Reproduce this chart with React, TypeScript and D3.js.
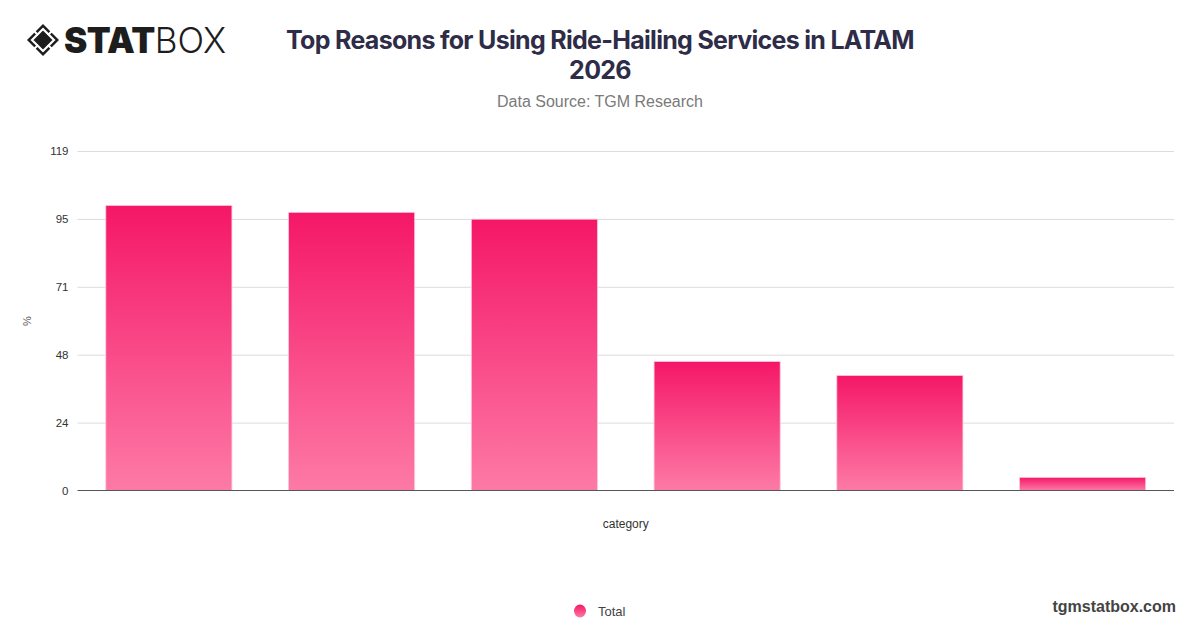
import React, { useRef, useEffect } from 'react';
import * as d3 from 'd3';

// values (percent)
const categories = ['Reason 1', 'Reason 2', 'Reason 3', 'Reason 4', 'Reason 5', 'Reason 6'];
const totals = [99.9, 97.5, 95.1, 45.2, 40.3, 4.6];
const yMax = 119;
const yTicks = [0, 23.8, 47.6, 71.4, 95.2, 119];

const W = 1200;
const H = 628;

export default function App() {
  const svgRef = useRef<SVGSVGElement>(null);

  useEffect(() => {
    if (!svgRef.current) return;
    const svg = d3.select(svgRef.current);
    svg.selectAll('*').remove();

    const margin = { top: 151, right: 26, bottom: 137.5, left: 77.5 };
    const plotBottom = H - margin.bottom;

    const x = d3.scaleBand<string>()
      .domain(categories)
      .range([margin.left, W - margin.right])
      .paddingInner(0.31)
      .paddingOuter(0.155);

    const y = d3.scaleLinear()
      .domain([0, yMax])
      .range([plotBottom, margin.top]);

    const defs = svg.append('defs');
    const grad = defs.append('linearGradient')
      .attr('id', 'barGrad')
      .attr('x1', '0%').attr('y1', '0%')
      .attr('x2', '0%').attr('y2', '100%');
    grad.append('stop').attr('offset', '0%').attr('stop-color', '#f51767');
    grad.append('stop').attr('offset', '100%').attr('stop-color', '#fd7aa6');

    const legGrad = defs.append('linearGradient')
      .attr('id', 'legGrad')
      .attr('x1', '0%').attr('y1', '0%')
      .attr('x2', '0%').attr('y2', '100%');
    legGrad.append('stop').attr('offset', '0%').attr('stop-color', '#f51767');
    legGrad.append('stop').attr('offset', '100%').attr('stop-color', '#fd7aa6');

    // grid
    const grid = svg.append('g')
      .attr('transform', `translate(${margin.left},0)`)
      .call(d3.axisLeft(y).tickValues(yTicks).tickSize(-(W - margin.right - margin.left)).tickFormat(d => String(Math.round(+d))))
      .call(g => g.select('.domain').remove());
    grid.selectAll('.tick line').attr('stroke', '#dcdcdc').attr('stroke-width', 1);
    grid.selectAll('.tick text')
      .attr('x', -9)
      .attr('fill', '#333')
      .attr('font-size', 11.5)
      .attr('font-family', 'Liberation Sans, Arial, sans-serif');
    grid.selectAll('.tick').filter(d => d === 0).select('line').remove();

    // bars
    svg.append('g')
      .selectAll('rect')
      .data(totals)
      .join('rect')
      .attr('x', (_, i) => x(categories[i])!)
      .attr('y', d => y(d))
      .attr('width', x.bandwidth())
      .attr('height', d => plotBottom - y(d))
      .attr('fill', 'url(#barGrad)')
      .attr('stroke', '#fbc6dc')
      .attr('stroke-width', 0.8);

    // baseline
    svg.append('line')
      .attr('x1', margin.left).attr('x2', W - margin.right)
      .attr('y1', plotBottom).attr('y2', plotBottom)
      .attr('stroke', '#555').attr('stroke-width', 1.2);

    // axis titles
    svg.append('text')
      .attr('transform', `translate(31,321) rotate(-90)`)
      .attr('text-anchor', 'middle')
      .attr('fill', '#555')
      .attr('font-size', 11)
      .attr('font-family', 'Liberation Sans, Arial, sans-serif')
      .text('%');

    svg.append('text')
      .attr('x', (margin.left + W - margin.right) / 2)
      .attr('y', 528)
      .attr('text-anchor', 'middle')
      .attr('fill', '#333')
      .attr('font-size', 12)
      .attr('font-family', 'Liberation Sans, Arial, sans-serif')
      .text('category');

    // title
    const title = svg.append('text')
      .attr('text-anchor', 'middle')
      .attr('fill', '#2e2c47')
      .attr('font-size', 25)
      .attr('font-weight', 700)
      .attr('font-family', 'Inter, sans-serif')
      .attr('letter-spacing', -0.7);
    title.append('tspan').attr('x', 600).attr('y', 49).text('Top Reasons for Using Ride-Hailing Services in LATAM');
    title.append('tspan').attr('x', 600).attr('y', 79).text('2026');

    svg.append('text')
      .attr('x', 600).attr('y', 107)
      .attr('text-anchor', 'middle')
      .attr('fill', '#7a7a7a')
      .attr('font-size', 16)
      .attr('font-family', 'Liberation Sans, Arial, sans-serif')
      .text('Data Source: TGM Research');

    // legend
    svg.append('ellipse')
      .attr('cx', 580).attr('cy', 611)
      .attr('rx', 6).attr('ry', 6.5)
      .attr('fill', 'url(#legGrad)');
    svg.append('text')
      .attr('x', 598).attr('y', 616)
      .attr('fill', '#444')
      .attr('font-size', 13)
      .attr('font-family', 'Liberation Sans, Arial, sans-serif')
      .text('Total');

    svg.append('text')
      .attr('x', 1176).attr('y', 612)
      .attr('text-anchor', 'end')
      .attr('fill', '#444')
      .attr('font-size', 16)
      .attr('font-weight', 700)
      .attr('font-family', 'Liberation Sans, Arial, sans-serif')
      .text('tgmstatbox.com');

    // logo
    const logo = svg.append('g').attr('transform', 'translate(43,40)');
    logo.append('path')
      .attr('d', 'M0,-16 L16,0 L0,16 L-16,0 Z')
      .attr('fill', '#1d1d1d');
    logo.append('path')
      .attr('d', 'M0,-11 L11,0 L0,11 L-11,0 Z')
      .attr('fill', 'none')
      .attr('stroke', '#fff')
      .attr('stroke-width', 2.2);
    logo.selectAll('line.cut')
      .data([[-1, -1], [1, -1], [1, 1], [-1, 1]])
      .join('line')
      .attr('x1', d => d[0] * 5).attr('y1', d => d[1] * 5)
      .attr('x2', d => d[0] * 9).attr('y2', d => d[1] * 9)
      .attr('stroke', '#fff').attr('stroke-width', 2);

    const brand = svg.append('text')
      .attr('x', 64).attr('y', 53)
      .attr('fill', '#1d1d1d')
      .attr('font-size', 35)
      .attr('font-family', 'Inter, sans-serif');
    brand.append('tspan').attr('font-weight', 900).attr('letter-spacing', -0.5).text('STAT');
    brand.append('tspan').attr('font-weight', 300).text('BOX');
  }, []);

  return (
    <svg
      ref={svgRef}
      width={W}
      height={H}
      viewBox={`0 0 ${W} ${H}`}
      style={{ position: 'absolute', left: 0, top: 0, background: '#fff' }}
    />
  );
}
